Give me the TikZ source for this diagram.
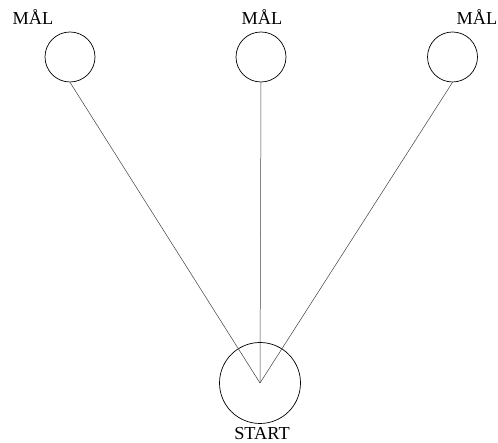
\documentclass[tikz,border=0pt]{standalone}
\usepackage{fontspec}
\setmainfont{Liberation Serif}
\begin{document}
\begin{tikzpicture}[x=1pt,y=1pt,
  goal/.style={circle,draw,line width=0.7pt,minimum size=50pt,inner sep=0pt},
  startc/.style={circle,draw,line width=0.7pt,minimum size=81pt,inner sep=0pt},
  lbl/.style={anchor=base,inner sep=0pt,font=\fontsize{18.3}{21}\selectfont},
  conn/.style={draw=black!75,line width=0.5pt}]
\useasboundingbox (0,0) rectangle (498,443);
\node[goal] (g1) at (70,386) {};
\node[goal] (g2) at (261,386) {};
\node[goal] (g3) at (452.5,386) {};
\node[startc] (s) at (260,60) {};
\node[lbl] (l1) at (33,418) {MÅL};
\node[lbl] (l2) at (262,418) {MÅL};
\node[lbl] (l3) at (477,418) {MÅL};
\node[lbl] (ls) at (262,3) {START};
\draw[conn] (g1.south) -- (s.center);
\draw[conn] (g2.south) -- (s.center);
\draw[conn] (g3.south) -- (s.center);
\end{tikzpicture}
\end{document}
